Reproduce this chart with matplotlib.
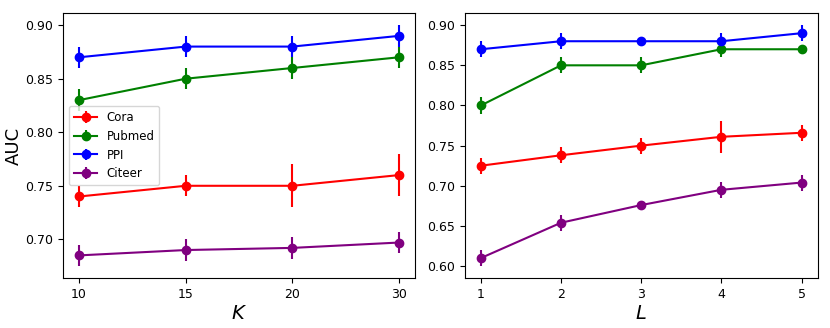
import matplotlib
matplotlib.use("Agg")
import matplotlib.pyplot as plt

names = ["Cora", "Pubmed", "PPI", "Citeer"]
colors = ["red", "green", "blue", "purple"]

k_labels = ["10", "15", "20", "30"]
k_mean = {
    "Cora": [0.74, 0.75, 0.75, 0.76],
    "Pubmed": [0.83, 0.85, 0.86, 0.87],
    "PPI": [0.87, 0.88, 0.88, 0.89],
    "Citeer": [0.685, 0.69, 0.692, 0.697],
}
k_err = {
    "Cora": [0.01, 0.01, 0.02, 0.02],
    "Pubmed": [0.01, 0.01, 0.01, 0.01],
    "PPI": [0.01, 0.01, 0.01, 0.01],
    "Citeer": [0.01, 0.01, 0.01, 0.01],
}

l_labels = ["1", "2", "3", "4", "5"]
l_mean = {
    "Cora": [0.725, 0.738, 0.75, 0.761, 0.766],
    "Pubmed": [0.80, 0.85, 0.85, 0.87, 0.87],
    "PPI": [0.87, 0.88, 0.88, 0.88, 0.89],
    "Citeer": [0.61, 0.654, 0.676, 0.695, 0.704],
}
l_err = {
    "Cora": [0.01, 0.01, 0.01, 0.02, 0.01],
    "Pubmed": [0.01, 0.01, 0.01, 0.01, 0.002],
    "PPI": [0.01, 0.01, 0.002, 0.01, 0.01],
    "Citeer": [0.01, 0.01, 0.003, 0.01, 0.01],
}

fig = plt.figure(figsize=(8.3, 3.28), dpi=100)
ax1 = fig.add_axes([0.076, 0.152, 0.424, 0.808])
ax2 = fig.add_axes([0.560, 0.152, 0.425, 0.808])

for name, c in zip(names, colors):
    ax1.errorbar(range(len(k_labels)), k_mean[name], yerr=k_err[name],
                 color=c, marker="o", markersize=6, linewidth=1.5, label=name)
    ax2.errorbar(range(len(l_labels)), l_mean[name], yerr=l_err[name],
                 color=c, marker="o", markersize=6, linewidth=1.5, label=name)

ax1.set_xticks(range(len(k_labels)))
ax1.set_xticklabels(k_labels)
ax2.set_xticks(range(len(l_labels)))
ax2.set_xticklabels(l_labels)
ax1.set_yticks([0.70, 0.75, 0.80, 0.85, 0.90])
ax2.set_yticks([0.60, 0.65, 0.70, 0.75, 0.80, 0.85, 0.90])

for ax in (ax1, ax2):
    ax.tick_params(labelsize=9)

ax1.set_xlabel("$K$", fontsize=14, labelpad=2)
ax2.set_xlabel("$L$", fontsize=14, labelpad=2)
ax1.set_ylabel("AUC", fontsize=13, labelpad=2)
ax1.legend(loc="center left", fontsize=8.5)

fig.savefig("out.png", dpi=100)
